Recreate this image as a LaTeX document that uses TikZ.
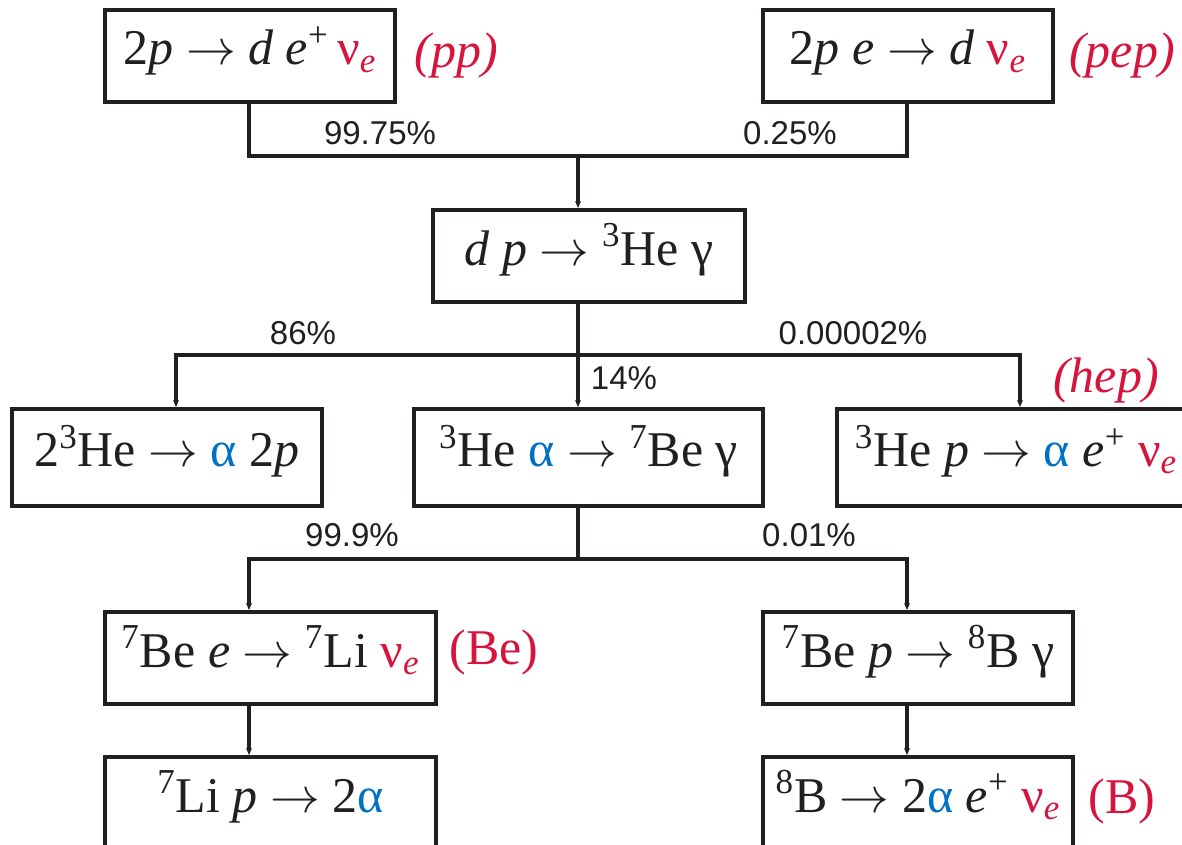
\documentclass[tikz,border=0pt]{standalone}
\usepackage{fontspec}
\setmainfont{Liberation Serif}
\setsansfont{Liberation Sans}
\usetikzlibrary{arrows.meta}
\definecolor{nured}{RGB}{215,20,60}
\definecolor{alblue}{RGB}{0,114,198}
\definecolor{ink}{RGB}{35,31,32}
\newcommand{\nue}{\textcolor{nured}{ν\textsubscript{\textit{e}}}}
\newcommand{\alp}{\textcolor{alblue}{α}}
\newcommand{\rarr}{\ensuremath{\rightarrow}}
\newcommand{\sps}[1]{\textsuperscript{#1}}
\tikzset{
  rbox/.style={draw=ink, line width=2pt, inner sep=0pt, text=ink,
    font=\fontsize{25}{30}\selectfont, text height=16pt, text depth=7pt},
  conn/.style={draw=ink, line width=1.6pt},
  arr/.style={conn, -{Stealth[length=3.5pt,width=3pt]}},
  pct/.style={text=ink, font=\sffamily\fontsize{16.5}{20}\selectfont, inner sep=0pt},
  tag/.style={text=nured, font=\fontsize{25}{30}\selectfont, inner sep=0pt}
}
\begin{document}
\begin{tikzpicture}[x=0.5pt,y=-0.5pt]
\useasboundingbox (0,0) rectangle (1182,845);
\fill[white] (0,0) rectangle (1182,845);
\clip (0,0) rectangle (1182,845);

% boxes
\node[rbox, minimum width=145pt, minimum height=46pt] (pp) at (250,56)
  {2\textit{p} \rarr{} \textit{d} \textit{e}\sps{+}\,\nue};
\node[rbox, minimum width=145pt, minimum height=46pt] (pep) at (908,56)
  {2\textit{p} \textit{e} \rarr{} \textit{d} \nue};
\node[rbox, minimum width=156pt, minimum height=46pt] (dp) at (589,256)
  {\textit{d} \textit{p} \rarr{} \sps{3}He γ};
\node[rbox, minimum width=155pt, minimum height=48.5pt] (hh) at (167,457.5)
  {2\sps{3}He \rarr{} \alp{} 2\textit{p}};
\node[rbox, minimum width=174.5pt, minimum height=48.5pt] (hea) at (588.5,457.5)
  {\sps{3}He \alp{} \rarr{} \sps{7}Be γ};
\node[rbox, minimum width=179pt, minimum height=48.5pt] (hep) at (1016,457.5)
  {\sps{3}He \textit{p} \rarr{} \alp{} \textit{e}\sps{+} \nue};
\node[rbox, minimum width=165.5pt, minimum height=46pt] (bee) at (270.5,658)
  {\sps{7}Be \textit{e} \rarr{} \sps{7}Li \nue};
\node[rbox, minimum width=155pt, minimum height=46pt] (bep) at (918,658)
  {\sps{7}Be \textit{p} \rarr{} \sps{8}B γ};
\node[rbox, minimum width=165.5pt, minimum height=46pt] (lip) at (270.5,803)
  {\sps{7}Li \textit{p} \rarr{} 2\alp};
\node[rbox, minimum width=155pt, minimum height=46pt] (bb) at (918,803)
  {\sps{8}B \rarr{} 2\alp{} \textit{e}\sps{+} \nue};

% tags
\node[tag] (tpp) at (456,55) {\textit{(pp)}};
\node[tag] (tpep) at (1122,55) {\textit{(pep)}};
\node[tag] (thep) at (1106,380) {\textit{(hep)}};
\node[tag] (tbe) at (494,652) {(Be)};
\node[tag] (tb) at (1122,801) {(B)};

% branching percentages
\node[pct] (p1) at (380,133) {99.75\%};
\node[pct] (p2) at (790,133) {0.25\%};
\node[pct] (p3) at (303,333) {86\%};
\node[pct] (p4) at (853,333) {0.00002\%};
\node[pct] (p5) at (624,378) {14\%};
\node[pct] (p6) at (352,535) {99.9\%};
\node[pct] (p7) at (809,535) {0.01\%};

% column and junction coordinates
\coordinate (colA) at (249,0);
\coordinate (colB) at (907,0);
\coordinate (colM) at (578,0);
\coordinate (colL) at (176,0);
\coordinate (colR) at (1020,0);
\coordinate (j1) at (578,156);
\coordinate (j2) at (578,355);
\coordinate (j3) at (578,559);

% connectors
\draw[conn] (pp.south -| colA) |- (j1) -| (pep.south -| colB);
\draw[arr] (j1) -- (dp.north -| colM);
\draw[conn] (dp.south -| colM) -- (j2);
\draw[arr] (j2) -| (hh.north -| colL);
\draw[arr] (j2) -| (hep.north -| colR);
\draw[arr] (j2) -- (hea.north -| colM);
\draw[conn] (hea.south -| colM) -- (j3);
\draw[arr] (j3) -| (bee.north -| colA);
\draw[arr] (j3) -| (bep.north -| colB);
\draw[arr] (bee.south -| colA) -- (lip.north -| colA);
\draw[arr] (bep.south -| colB) -- (bb.north -| colB);
\end{tikzpicture}
\end{document}
